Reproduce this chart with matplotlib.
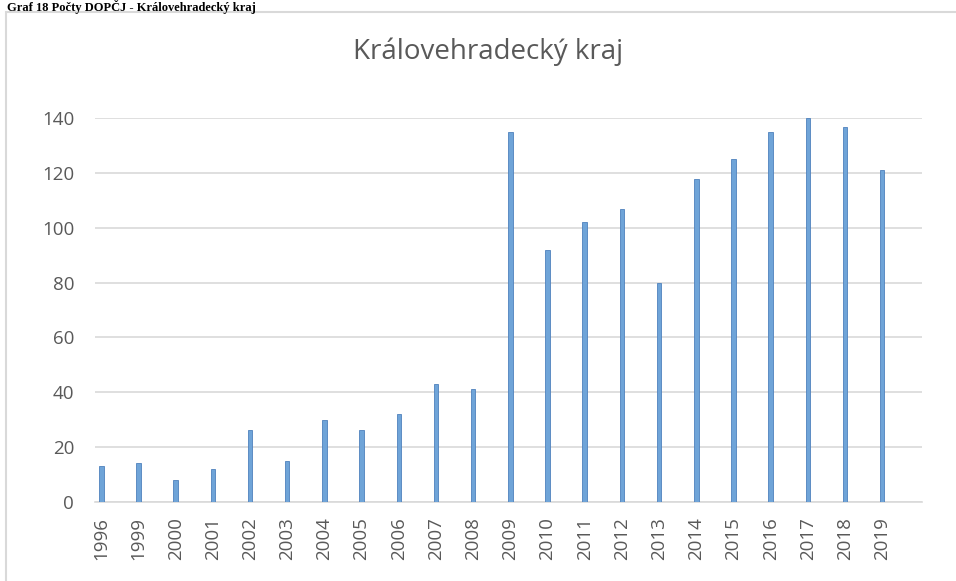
import matplotlib
matplotlib.use("Agg")
import matplotlib.pyplot as plt
from matplotlib.patches import Rectangle

years = ["1996", "1999", "2000", "2001", "2002", "2003", "2004", "2005", "2006",
         "2007", "2008", "2009", "2010", "2011", "2012", "2013", "2014", "2015",
         "2016", "2017", "2018", "2019"]
counts = [13, 14, 8, 12, 26, 15, 30, 26, 32, 43, 41, 135, 92, 102, 107, 80,
          118, 125, 135, 140, 137, 121]
yticks = [0, 20, 40, 60, 80, 100, 120, 140]

W, H = 956, 581
fig = plt.figure(figsize=(W / 100, H / 100), dpi=100)

# chart frame
fig.patches.append(Rectangle((6 / W, -0.1), 1.2, (1 - 12 / H) + 0.1,
                             transform=fig.transFigure, fill=False,
                             edgecolor="#d9d9d9", linewidth=1.5))

# document caption above the chart
fig.text(7 / W, 1 - 10.8 / H, "Graf 18 Počty DOPČJ - Královehradecký kraj",
         family="Liberation Serif", weight="bold", fontsize=9,
         ha="left", va="baseline", color="black")

ax = fig.add_axes([95 / W, 1 - 501.7 / H, (922 - 95) / W, (501.7 - 118.3) / H])
x = range(len(years))
ax.bar(x, counts, width=0.12, color="#6fa4d8", edgecolor="#4f81bd",
       linewidth=0.6, zorder=3)

ax.set_ylim(0, 140)
ax.set_xlim(-0.17, 22.07)
ax.set_yticks(yticks)
ax.set_xticks(list(x))
ax.set_xticklabels(years, rotation=90)
ax.grid(axis="y", color="#d9d9d9", linewidth=1.2, zorder=0)
ax.set_axisbelow(True)
for s in ["top", "right", "left"]:
    ax.spines[s].set_visible(False)
ax.spines["bottom"].set_color("#d9d9d9")
ax.spines["bottom"].set_linewidth(1.2)
ax.tick_params(axis="both", length=0, colors="#595959", labelsize=13.5)
ax.tick_params(axis="y", pad=15)
ax.tick_params(axis="x", pad=11)
for lbl in ax.get_xticklabels() + ax.get_yticklabels():
    lbl.set_family("Open Sans")

fig.text(488 / W, 1 - 58.5 / H, "Královehradecký kraj", family="Open Sans",
         fontsize=20, color="#595959", ha="center", va="baseline")

fig.savefig("out.png", dpi=100)
